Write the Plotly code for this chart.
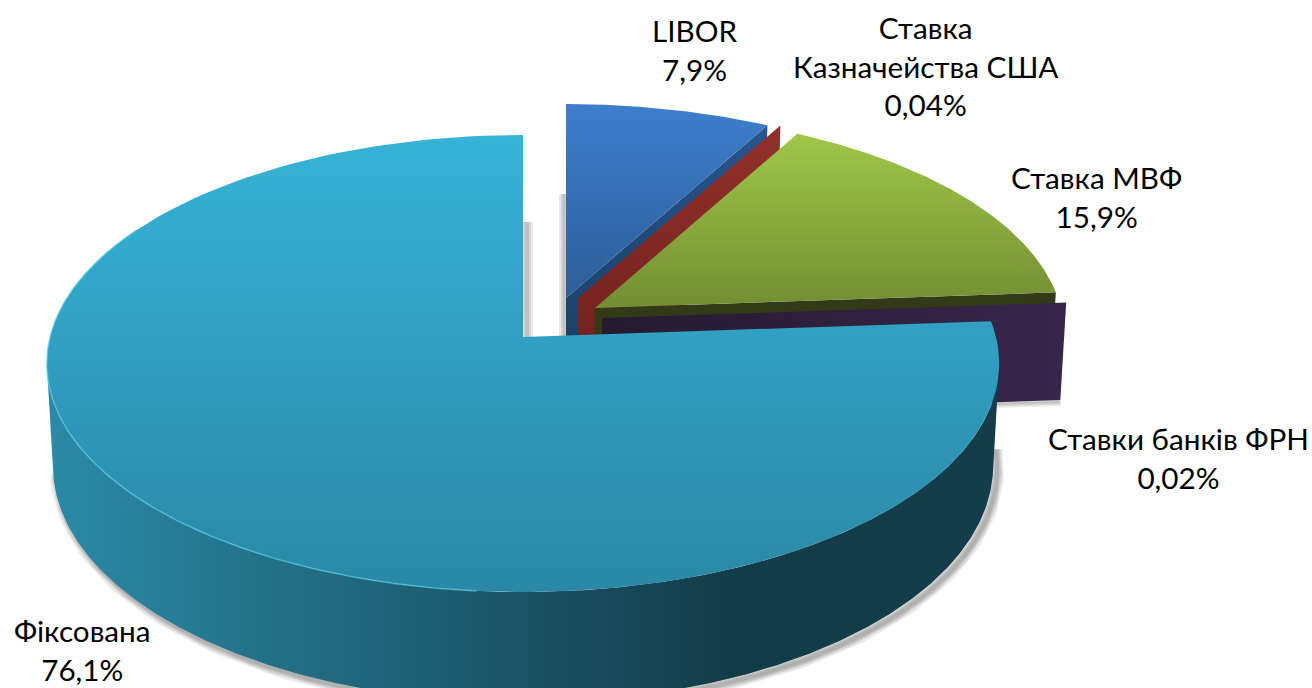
import numpy as np
import plotly.graph_objects as go

# ---- data (clockwise from 12 o'clock) ----
categories = ["LIBOR", "Ставка<br>Казначейства США", "Ставка МВФ", "Ставки банків ФРН", "Фіксована"]
values = [7.9, 0.04, 15.9, 0.02, 76.1]
value_labels = ["7,9%", "0,04%", "15,9%", "0,02%", "76,1%"]

# ---- projection of the pie disc on the page ----
W, H = 1312, 688
K = 0.116
TOP = dict(x0=523, y0=337, b=473, a=225.4)
BOT = dict(x0=523, y0=438, b=467, a=234)


def project(theta, cfg, dx=0, dy=0, sx=1.0, sy=1.0, r=1.0):
    t = np.radians(theta)
    u, v = r * np.sin(t), -r * np.cos(t)
    w = 1 - K * v
    return cfg["x0"] + dx + sx * cfg["b"] * u / w, cfg["y0"] + dy + sy * cfg["a"] * v / w


total = sum(values)
edges = np.concatenate([[0], np.cumsum(values) / total * 360])


def top_poly(i, **kw):
    th = np.linspace(edges[i], edges[i + 1], 160)
    x, y = project(th, TOP, **kw)
    ax, ay = project(0, TOP, r=0, **kw)
    return np.r_[ax, x, ax], np.r_[ay, y, ay]


def end_wall(angle, depth=1.0, **kw):
    ax, ay = project(0, TOP, r=0, **kw)
    ex, ey = project(angle, TOP, **kw)
    bx, by = project(angle, BOT, **kw)
    cx, cy = project(0, BOT, r=0, **kw)
    by = ey + (by - ey) * depth
    cy = ay + (cy - ay) * depth
    return [ax, ex, bx, cx, ax], [ay, ey, by, cy, ay]


def grad(kind, stops, start, stop):
    return dict(type=kind, start=start, stop=stop,
                colorscale=[[p, c] for p, c in stops])


fig = go.Figure()


def fill(x, y, gradient=None, color=None):
    kw = dict(fillgradient=gradient) if gradient else dict(fillcolor=color)
    fig.add_trace(go.Scatter(x=list(x), y=list(y), mode="lines", fill="toself",
                             line=dict(width=0), hoverinfo="skip", showlegend=False, **kw))


def soft_line(x, y, widths=(14, 10, 7, 4), alpha=0.085):
    for w in widths:
        fig.add_trace(go.Scatter(x=list(x), y=list(y), mode="lines",
                                 line=dict(width=w, color=f"rgba(0,0,0,{alpha})"),
                                 hoverinfo="skip", showlegend=False))


LIB = dict(dx=43, dy=-39, sx=0.985, sy=0.96)
TRE = dict(dx=55, dy=-39, sx=0.985, sy=0.96)
MVF = dict(dx=72, dy=-29, sx=0.985, sy=0.97)
BNK = dict(dx=79, dy=-19, sx=0.992, sy=0.97)

# soft shadows behind the exploded slices and the big slice
lx, ly = project(0, TOP, r=0, **LIB)
tx, ty = project(0, TOP, **LIB)
soft_line([lx - 2, lx - 2], [ty + 90, ly + 40], widths=(10, 6, 3))
fx, fy = project(0, TOP, r=0)
soft_line([fx + 4, fx + 4], [222, fy], widths=(12, 8, 4))
th_sh = np.linspace(92, 262, 200)
sx_, sy_ = project(th_sh, BOT, dx=4, dy=3)
soft_line(sx_, sy_)

# LIBOR
fill(*end_wall(edges[1], **LIB), gradient=grad("vertical", [(0, "#27558e"), (1, "#1c4068")], 125, 340))
fill(*top_poly(0, **LIB), gradient=grad("vertical", [(0, "#3e7fce"), (1, "#2d5d98")], 100, 300))

# Treasury rate (sliver: only its wall shows)
fill(*end_wall(edges[2], **TRE), gradient=grad("vertical", [(0, "#93302b"), (1, "#74231f")], 126, 340))
fill(*top_poly(1, **TRE), color="#93302b")

# IMF rate
fill(*end_wall(edges[3], **MVF), color="#333a17")
fill(*top_poly(2, **MVF), gradient=grad("vertical", [(0, "#9fc748"), (1, "#728d33")], 133, 310))

# FRN banks (sliver: only its wall shows)
pb = end_wall(edges[4], depth=0.97, **BNK)
soft_line([pb[0][2], 990], [pb[1][2] + 2, pb[1][2] + 4], widths=(8, 5, 2))
fill(*pb, gradient=grad("horizontal", [(0, "#261a30"), (1, "#37264b")], 600, 1060))

# Fixed: outer wall then top
tan_deg = np.degrees(np.arccos(K))
th = np.linspace(90 + (90 - tan_deg), 270 - (90 - tan_deg), 400)
tx_, ty_ = project(th, TOP)
bx_, by_ = project(th, BOT)
fill(np.r_[tx_, bx_[::-1], tx_[0]], np.r_[ty_, by_[::-1], ty_[0]],
     gradient=grad("horizontal", [(0, "#2b8aa8"), (0.25, "#226f86"), (0.5, "#1a5364"),
                                  (0.72, "#133c49"), (1, "#143d4b")], 50, 1000))
fill(*top_poly(4), gradient=grad("vertical", [(0, "#36b3d8"), (1, "#2a88a6")], 133, 592))
rx_, ry_ = project(np.linspace(185, 300, 200), TOP)
fig.add_trace(go.Scatter(x=list(rx_), y=list(ry_), mode="lines",
                         line=dict(width=1.6, color="rgba(90,205,230,0.6)"),
                         hoverinfo="skip", showlegend=False))

# ---- labels ----
label_at = [(695, 50), (925, 66), (1096, 197), (1178, 458), (82, 650)]
for name, val, (lxp, lyp) in zip(categories, value_labels, label_at):
    fig.add_annotation(x=lxp, y=lyp, text=f"{name}<br>{val}", showarrow=False,
                       xanchor="center", yanchor="middle", align="center",
                       font=dict(family="Lato, 'Open Sans', sans-serif", size=29.7, color="#000"))

fig.update_layout(
    width=W, height=H, margin=dict(l=0, r=0, t=0, b=0),
    paper_bgcolor="white", plot_bgcolor="white", showlegend=False,
    xaxis=dict(range=[0, W], visible=False, fixedrange=True),
    yaxis=dict(range=[H, 0], visible=False, fixedrange=True),
)
fig.write_html("out.html", config=dict(displayModeBar=False),
               post_script="document.body.style.margin='0';document.body.style.overflow='hidden';")
